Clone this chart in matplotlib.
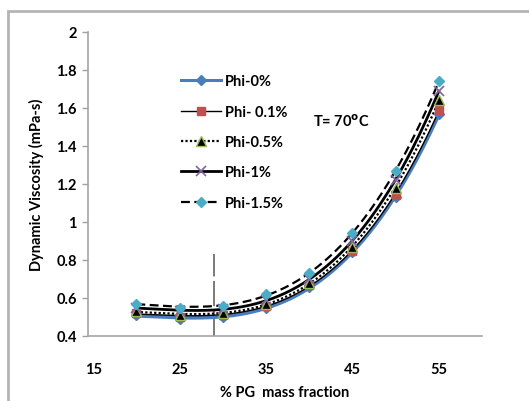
import numpy as np
import matplotlib.pyplot as plt
from matplotlib.patches import Rectangle

# PG mass fraction (%)
pg = [20, 25, 30, 35, 40, 45, 50, 55]

# dynamic viscosity (mPa-s) for each particle volume fraction
phi_0 = [0.51, 0.49, 0.50, 0.55, 0.66, 0.84, 1.13, 1.57]
phi_01 = [0.52, 0.50, 0.51, 0.56, 0.67, 0.85, 1.14, 1.59]
phi_05 = [0.53, 0.51, 0.52, 0.57, 0.68, 0.87, 1.18, 1.64]
phi_1 = [0.55, 0.53, 0.54, 0.59, 0.70, 0.90, 1.22, 1.69]
phi_15 = [0.57, 0.55, 0.56, 0.62, 0.73, 0.94, 1.27, 1.74]

labels = ['Phi-0%', 'Phi- 0.1%', 'Phi-0.5%', 'Phi-1%', 'Phi-1.5%']
x_ticks = [15, 25, 35, 45, 55]
y_ticks = [0.4, 0.6, 0.8, 1.0, 1.2, 1.4, 1.6, 1.8, 2.0]
y_ticklabels = ['0.4', '0.6', '0.8', '1', '1.2', '1.4', '1.6', '1.8', '2']
marker_x = 29
marker_y = [0.4, 0.83]

plt.rcParams['font.family'] = ['Lato', 'DejaVu Sans']
plt.rcParams['font.weight'] = 'bold'

fig = plt.figure(figsize=(5.29, 4.02), dpi=100)
fig.patch.set_facecolor('white')
# chart-area border like the spreadsheet export
fig.patches.append(Rectangle((8 / 529, -0.05), 1.0, 1 - 12 / 402 + 0.05,
                             transform=fig.transFigure, fill=False,
                             edgecolor='#b4b4b4', lw=2.0))

ax = fig.add_axes([88 / 529, 1 - 337 / 402, (482 - 88) / 529, (337 - 33) / 402])

styles = [
    dict(color='#4a7ebb', lw=2.6, ls='-', marker='D', mfc='#4a7ebb', mec='#4a7ebb', ms=5),
    dict(color='black', lw=1.0, ls='-', marker='s', mfc='#c0504d', mec='#c0504d', ms=5.5),
    dict(color='black', lw=1.6, ls=(0, (1, 1)), marker='^', mfc='black', mec='#9bbb59', ms=6.5),
    dict(color='black', lw=2.0, ls='-', marker='x', mfc='#8064a2', mec='#8064a2', ms=7, mew=1.2),
    dict(color='black', lw=1.6, ls=(0, (4, 2)), marker='D', mfc='#4bacc6', mec='#4bacc6', ms=5),
]

series = [phi_0, phi_01, phi_05, phi_1, phi_15]
xs = np.linspace(pg[0], pg[-1], 200)
for vals, lab, st in zip(series, labels, styles):
    # smooth trend curve through the measured points
    coef = np.polyfit(pg, vals, 3)
    ax.plot(xs, np.polyval(coef, xs), color=st['color'], lw=st['lw'], ls=st['ls'], zorder=2)
    ax.plot(pg, vals, ls='none', marker=st['marker'], mfc=st['mfc'], mec=st['mec'],
            ms=st['ms'], mew=st.get('mew', 1.0), zorder=3)
    # legend proxy
    ax.plot([], [], color=st['color'], lw=st['lw'] if st['lw'] < 2.5 else 2.2, ls=st['ls'],
            marker=st['marker'], mfc=st['mfc'], mec=st['mec'], ms=st['ms'],
            mew=st.get('mew', 1.0), label=lab)

ax.plot([marker_x, marker_x], marker_y, color='#707070', lw=1.3, ls=(0, (14, 2.5)), zorder=1)

ax.set_xlim(14.4, 60)
ax.set_ylim(0.4, 2.0)
ax.set_xticks(x_ticks)
ax.set_yticks(y_ticks)
ax.set_yticklabels(y_ticklabels)
ax.tick_params(axis='x', length=0, pad=19, labelsize=10.5)
ax.tick_params(axis='y', length=4, color='#a0a0a0', width=1, labelsize=10.5, pad=4)

for s in ['top', 'right']:
    ax.spines[s].set_visible(False)
for s in ['left', 'bottom']:
    ax.spines[s].set_color('#a6a6a6')
    ax.spines[s].set_linewidth(1.2)

ax.set_xlabel('% PG  mass fraction', fontsize=10.5, fontweight='bold', labelpad=6)
ax.set_ylabel('Dynamic Viscosity (mPa-s)', fontsize=10.5, fontweight='bold', labelpad=9)

leg = ax.legend(loc='upper left', bbox_to_anchor=(0.222, 0.88), frameon=False,
                fontsize=10.5, handlelength=2.75, labelspacing=1.12, handletextpad=0.25,
                borderaxespad=0)

# annotation placed in figure pixels (origin top-left)
fig.text(313 / 529, 1 - 122 / 402, 'T= 70$^{\\mathrm{o}}$C', fontsize=10.5,
         fontweight='bold', va='center', ha='left')

fig.savefig('out.png', dpi=100)
